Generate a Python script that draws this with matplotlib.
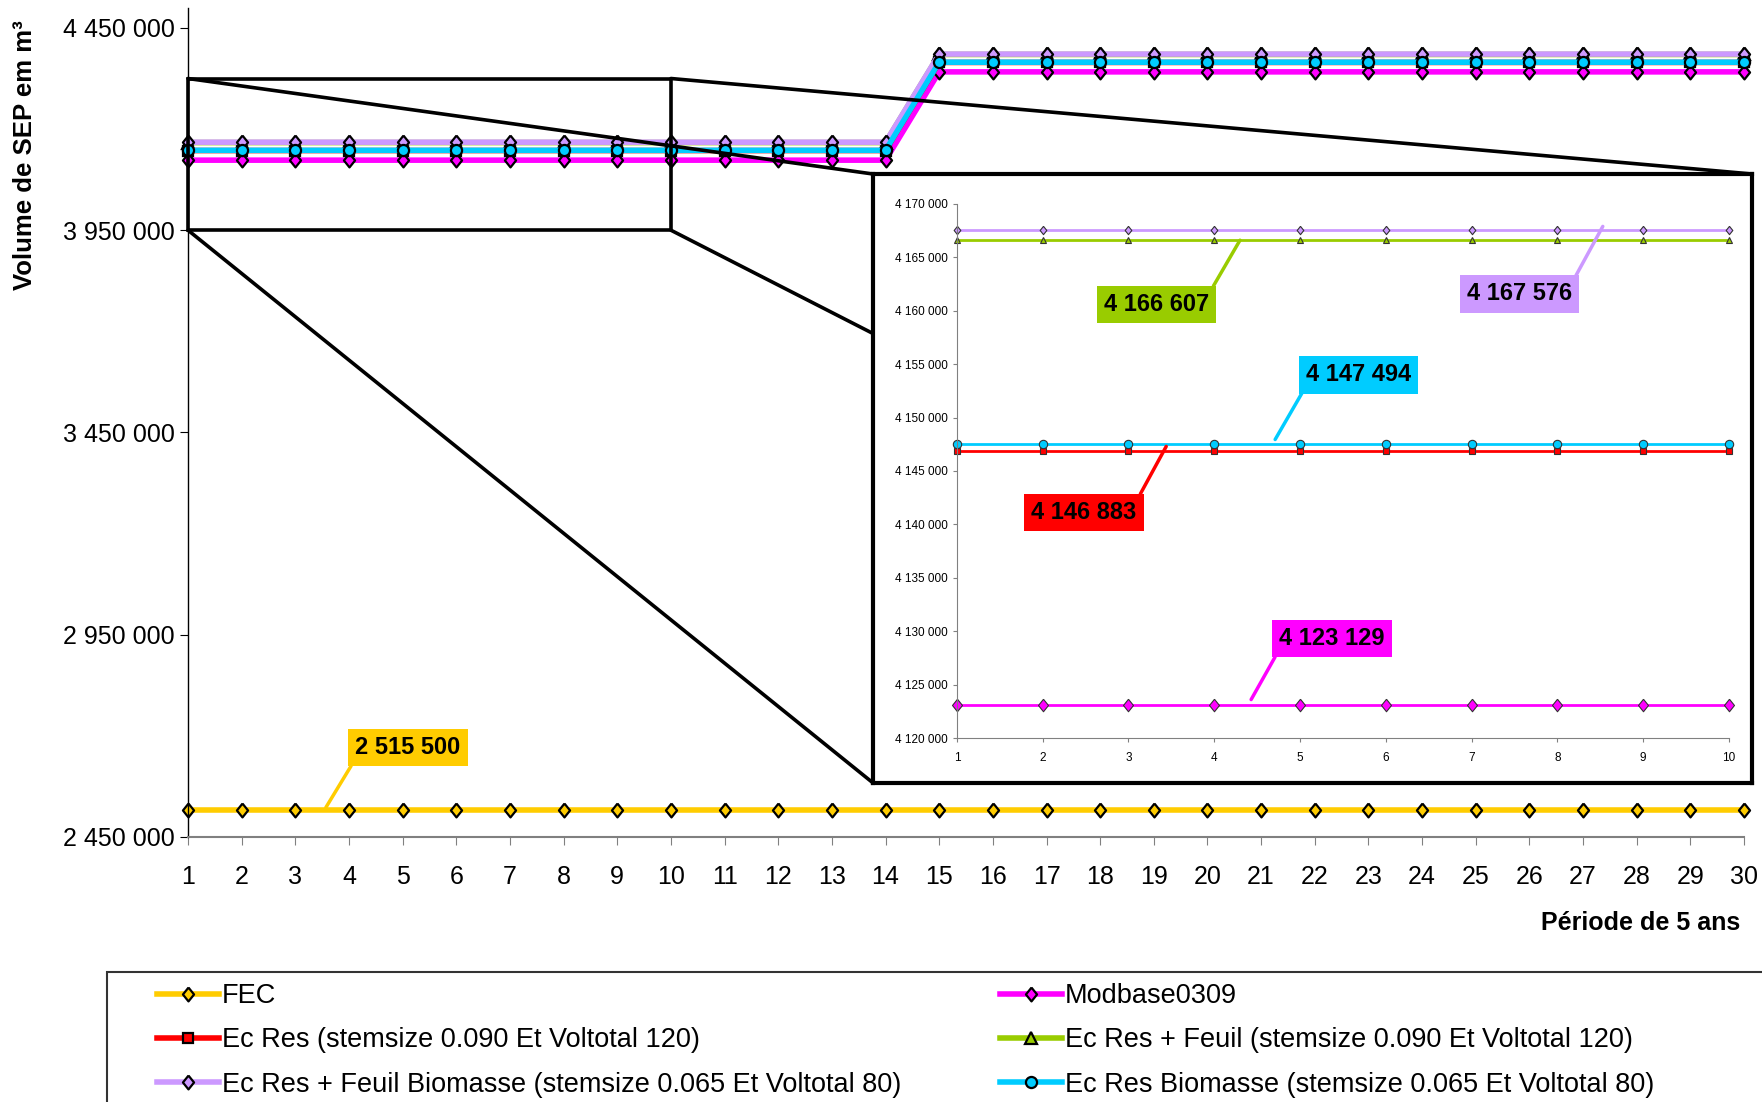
import matplotlib.pyplot as plt
from matplotlib.patches import Rectangle, ConnectionPatch
from matplotlib.ticker import FuncFormatter, MultipleLocator

plt.rcParams['font.family'] = ['Liberation Sans', 'DejaVu Sans']

# volumes per 5-year period (m3)
periods = list(range(1, 31))
fec = [2515500] * 30
modbase = [4123129] * 14 + [4341400] * 16
ec_res = [4146883] * 14 + [4364700] * 16
ec_res_feuil = [4166607] * 14 + [4384400] * 16
ec_res_feuil_bio = [4167576] * 14 + [4385400] * 16
ec_res_bio = [4147494] * 14 + [4365300] * 16

zoom_periods = list(range(1, 11))

names = ["FEC", "Modbase0309",
         "Ec Res (stemsize 0.090 Et Voltotal 120)",
         "Ec Res + Feuil (stemsize 0.090 Et Voltotal 120)",
         "Ec Res + Feuil Biomasse (stemsize 0.065 Et Voltotal 80)",
         "Ec Res Biomasse (stemsize 0.065 Et Voltotal 80)"]
series = [fec, modbase, ec_res, ec_res_feuil, ec_res_feuil_bio, ec_res_bio]
colors = ["#FFCC00", "#FF00FF", "#FF0000", "#99CC00", "#CC99FF", "#00CCFF"]

diamond = [(0, 1), (0.8, 0), (0, -1), (-0.8, 0), (0, 1)]
markers = [diamond, diamond, "s", "^", diamond, "o"]
msizes = [10, 10, 7, 8, 10, 8]


def spaced(v, pos=None):
    return f"{v:,.0f}".replace(",", " ")


fig = plt.figure(figsize=(17.62, 11.02), dpi=100)

# main chart
ax = fig.add_axes([0.1067, 0.2405, 0.8831, 0.7525], zorder=1)
handles = []
for vals, name, c, m, ms in zip(series, names, colors, markers, msizes):
    h, = ax.plot(periods, vals, color=c, lw=4, marker=m, ms=ms,
                 mfc=c, mec="black", mew=1.6, clip_on=False, label=name)
    handles.append(h)

ax.set_xlim(1, 30)
ax.set_ylim(2450000, 4500000)
ax.set_xticks(periods)
ax.set_yticks([2450000, 2950000, 3450000, 3950000, 4450000])
ax.yaxis.set_major_formatter(FuncFormatter(spaced))
ax.tick_params(axis="both", labelsize=18, direction="out", length=6)
ax.tick_params(axis="x", color="#808080", pad=14)
ax.spines["top"].set_visible(False)
ax.spines["right"].set_visible(False)
ax.spines["bottom"].set_color("#808080")
ax.spines["bottom"].set_linewidth(1.5)
ax.spines["left"].set_linewidth(1)

ax.annotate(spaced(fec[0]), xy=(3.57, 2523000), xytext=(5.1, 2671500),
            ha="center", va="center", fontsize=17, fontweight="bold",
            bbox=dict(boxstyle="square,pad=0.3", fc=colors[0], ec="none"),
            arrowprops=dict(arrowstyle="-", color=colors[0], lw=2.5,
                            relpos=(0, 0), shrinkA=0, shrinkB=0))

# zoomed region
ax.add_patch(Rectangle((1, 3950000), 9, 375000, fill=False, ec="black",
                       lw=2.6, zorder=10, clip_on=False))

fig.text(25 / 1762, 1 - 155 / 1102, "Volume de SEP em m³", rotation=90,
         ha="center", va="center", fontsize=18.5, fontweight="bold")
fig.text(1740 / 1762, 1 - 923 / 1102, "Période de 5 ans", ha="right",
         va="center", fontsize=18, fontweight="bold")

# inset frame
box = fig.add_axes([0.4955, 0.2895, 0.4989, 0.5526], zorder=5)
box.set_xticks([])
box.set_yticks([])
for s in box.spines.values():
    s.set_linewidth(3)

for xa, ya, xb, yb in [(1, 4325000, 0, 1), (10, 4325000, 1, 1),
                       (1, 3950000, 0, 0), (10, 3950000, 1, 0)]:
    con = ConnectionPatch(xyA=(xa, ya), coordsA=ax.transData,
                          xyB=(xb, yb), coordsB=box.transAxes,
                          color="black", lw=2.6, zorder=3)
    fig.add_artist(con)

# inset chart, first 10 periods
inner = fig.add_axes([0.5431, 0.3303, 0.4381, 0.4846], zorder=6)
inner.patch.set_alpha(0)
small = [6, 9, 5, 5, 6, 6]
for vals, c, m, ms in zip(series, colors, markers, small):
    inner.plot(zoom_periods, vals[:10], color=c, lw=2, marker=m, ms=ms,
               mfc=c, mec="#333333", mew=0.8, clip_on=False)
inner.set_xlim(1, 10)
inner.set_ylim(4120000, 4170000)
inner.set_xticks(zoom_periods)
inner.yaxis.set_major_locator(MultipleLocator(5000))
inner.yaxis.set_major_formatter(FuncFormatter(spaced))
inner.tick_params(labelsize=8.5, length=3, color="#808080")
inner.tick_params(axis="x", pad=7)
inner.spines["top"].set_visible(False)
inner.spines["right"].set_visible(False)
inner.spines["left"].set_color("#808080")
inner.spines["bottom"].set_color("#808080")

callouts = [
    (ec_res_feuil, colors[3], (4.3, 4166607), (3.33, 4160590), (1, 1)),
    (ec_res_feuil_bio, colors[4], (8.53, 4167900), (7.56, 4161573), (1, 1)),
    (ec_res_bio, colors[5], (4.71, 4147950), (5.68, 4153989), (0, 0)),
    (ec_res, colors[2], (3.44, 4147300), (2.48, 4141115), (1, 1)),
    (modbase, colors[1], (4.43, 4123600), (5.37, 4129316), (0, 0)),
]
for vals, c, xy, xytext, rp in callouts:
    inner.annotate(spaced(vals[0]), xy=xy, xytext=xytext, ha="center",
                   va="center", fontsize=17, fontweight="bold",
                   bbox=dict(boxstyle="square,pad=0.3", fc=c, ec="none"),
                   arrowprops=dict(arrowstyle="-", color=c, lw=2.5,
                                   relpos=rp, shrinkA=0, shrinkB=0))

# legend
order = [0, 2, 4, 1, 3, 5]
fig.legend([handles[i] for i in order], [names[i] for i in order],
           ncol=2, loc="upper left", bbox_to_anchor=(157 / 1762, 1 - 983 / 1102),
           frameon=False, fontsize=19.5, borderpad=0, borderaxespad=0,
           handlelength=2.3, handletextpad=0.1, columnspacing=3.65,
           labelspacing=0.68)
fig.add_artist(Rectangle((107 / 1762, -0.1), 1, 0.1 + 130 / 1102,
                         transform=fig.transFigure, fill=False,
                         ec="#333333", lw=1.5))

fig.savefig("out.png", dpi=100)
